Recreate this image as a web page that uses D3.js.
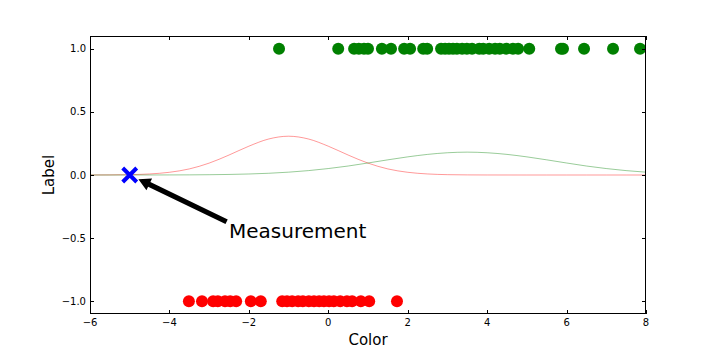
<!DOCTYPE html>
<html><head><meta charset="utf-8">
<script src="https://cdn.jsdelivr.net/npm/d3@7"></script>
<style>body{margin:0;background:#fff}svg{display:block;font-family:"DejaVu Sans",sans-serif}</style>
</head><body><svg id="c" width="718" height="359"></svg>
<script>
// Data
const greenX = [-1.24,0.25,0.65,0.77,0.90,1.00,1.35,1.58,1.91,2.06,2.39,2.49,2.84,2.94,3.04,3.14,3.24,3.37,3.49,3.62,3.80,3.90,4.05,4.20,4.32,4.48,4.65,4.78,5.06,5.86,5.91,6.44,7.17,7.85];
const redX = [-3.51,-3.18,-2.90,-2.78,-2.60,-2.47,-2.32,-1.95,-1.70,-1.16,-1.04,-0.91,-0.76,-0.64,-0.49,-0.36,-0.23,-0.11,0.02,0.14,0.30,0.47,0.60,0.82,1.03,1.73];
const curveX = [-6,-5.5,-5,-4.5,-4,-3.5,-3,-2.5,-2,-1.5,-1,-0.5,0,0.5,1,1.5,2,2.5,3,3.5,4,4.5,5,5.5,6,6.5,7,7.5,8];
const redCurve = [0.0002,0.0008,0.0027,0.0082,0.0214,0.048,0.094,0.158,0.228,0.285,0.307,0.285,0.228,0.158,0.094,0.048,0.0214,0.0082,0.0027,0.0008,0.0002,0.0001,0,0,0,0,0,0,0];
const greenCurve = [0,0,0.0001,0.0002,0.0005,0.0011,0.0023,0.0044,0.008,0.0137,0.0224,0.0347,0.051,0.071,0.095,0.12,0.1435,0.163,0.176,0.181,0.176,0.163,0.1435,0.12,0.095,0.071,0.051,0.0347,0.0224];
const measurement = [-5, 0];
const labelPos = [-2.5, -0.5];
const arrowTail = [-2.56, -0.37];
const xTicks = [-6,-4,-2,0,2,4,6,8];
const yTicks = [-1.0,-0.5,0.0,0.5,1.0];

const svg = d3.select("#c");
const L=90,R=646,T=36,B=314;
const x = d3.scaleLinear().domain([-6,8]).range([L,R]);
const y = d3.scaleLinear().domain([-1.1,1.1]).range([B,T]);
const g = svg.append("g");
g.append("defs").append("clipPath").attr("id","clip").append("rect").attr("x",L).attr("y",T).attr("width",R-L).attr("height",B-T);
const plot = g.append("g").attr("clip-path","url(#clip)");

const line = d3.line().x(d=>x(d[0])).y(d=>y(d[1])).curve(d3.curveMonotoneX);
plot.append("path").datum(curveX.map((v,i)=>[v,redCurve[i]])).attr("d",line).attr("fill","none").attr("stroke","#ff0000").attr("stroke-opacity",0.4).attr("stroke-width",1);
plot.append("path").datum(curveX.map((v,i)=>[v,greenCurve[i]])).attr("d",line).attr("fill","none").attr("stroke","#008000").attr("stroke-opacity",0.4).attr("stroke-width",1);

plot.selectAll(".gd").data(greenX).join("circle").attr("cx",d=>x(d)).attr("cy",y(1)).attr("r",6).attr("fill","#008000");
plot.selectAll(".rd").data(redX).join("circle").attr("cx",d=>x(d)).attr("cy",y(-1)).attr("r",6).attr("fill","#ff0000");

// blue X marker
const mx=x(measurement[0]), my=y(measurement[1]), s=7;
g.append("path").attr("d",`M${mx-s},${my-s}L${mx+s},${my+s}M${mx-s},${my+s}L${mx+s},${my-s}`).attr("stroke","#0000ff").attr("stroke-width",4).attr("fill","none");

// arrow
const tx=x(arrowTail[0]), ty=y(arrowTail[1]);
const hx=mx+(tx-mx)*0.09, hy=my+(ty-my)*0.09;
const ang=Math.atan2(hy-ty,hx-tx), ux=Math.cos(ang), uy=Math.sin(ang), px=-uy, py=ux;
const hl=12, hw=6.5, sw=2.6;
const bx=hx-ux*hl, by=hy-uy*hl;
g.append("path").attr("d",
 `M${tx+px*sw},${ty+py*sw}L${bx+px*sw},${by+py*sw}L${bx+px*hw},${by+py*hw}L${hx},${hy}L${bx-px*hw},${by-py*hw}L${bx-px*sw},${by-py*sw}L${tx-px*sw},${ty-py*sw}Z`)
 .attr("fill","#000");
g.append("text").attr("x",x(labelPos[0])).attr("y",y(labelPos[1])).attr("font-size",20).attr("fill","#000").text("Measurement");

// frame
g.append("rect").attr("x",L+0.5).attr("y",T+0.5).attr("width",R-L-1).attr("height",B-T-1).attr("fill","none").attr("stroke","#000").attr("stroke-width",1);

// ticks inward on all sides
const fmtY = d3.format(".1f");
xTicks.forEach(t=>{
  const X=Math.round(x(t))+0.5;
  g.append("line").attr("x1",X).attr("x2",X).attr("y1",B).attr("y2",B-4).attr("stroke","#000");
  g.append("line").attr("x1",X).attr("x2",X).attr("y1",T).attr("y2",T+4).attr("stroke","#000");
  g.append("text").attr("x",x(t)).attr("y",B+12).attr("text-anchor","middle").attr("font-size",10).text(d3.format("d")(t));
});
yTicks.forEach(t=>{
  const Y=Math.round(y(t))+0.5;
  g.append("line").attr("x1",L).attr("x2",L+4).attr("y1",Y).attr("y2",Y).attr("stroke","#000");
  g.append("line").attr("x1",R).attr("x2",R-4).attr("y1",Y).attr("y2",Y).attr("stroke","#000");
  g.append("text").attr("x",86).attr("y",y(t)+3.5).attr("text-anchor","end").attr("font-size",10).text(fmtY(t));
});
g.append("text").attr("x",(L+R)/2).attr("y",345).attr("text-anchor","middle").attr("font-size",15).text("Color");
g.append("text").attr("transform",`translate(54,${(T+B)/2}) rotate(-90)`).attr("text-anchor","middle").attr("font-size",15).text("Label");
</script></body></html>
